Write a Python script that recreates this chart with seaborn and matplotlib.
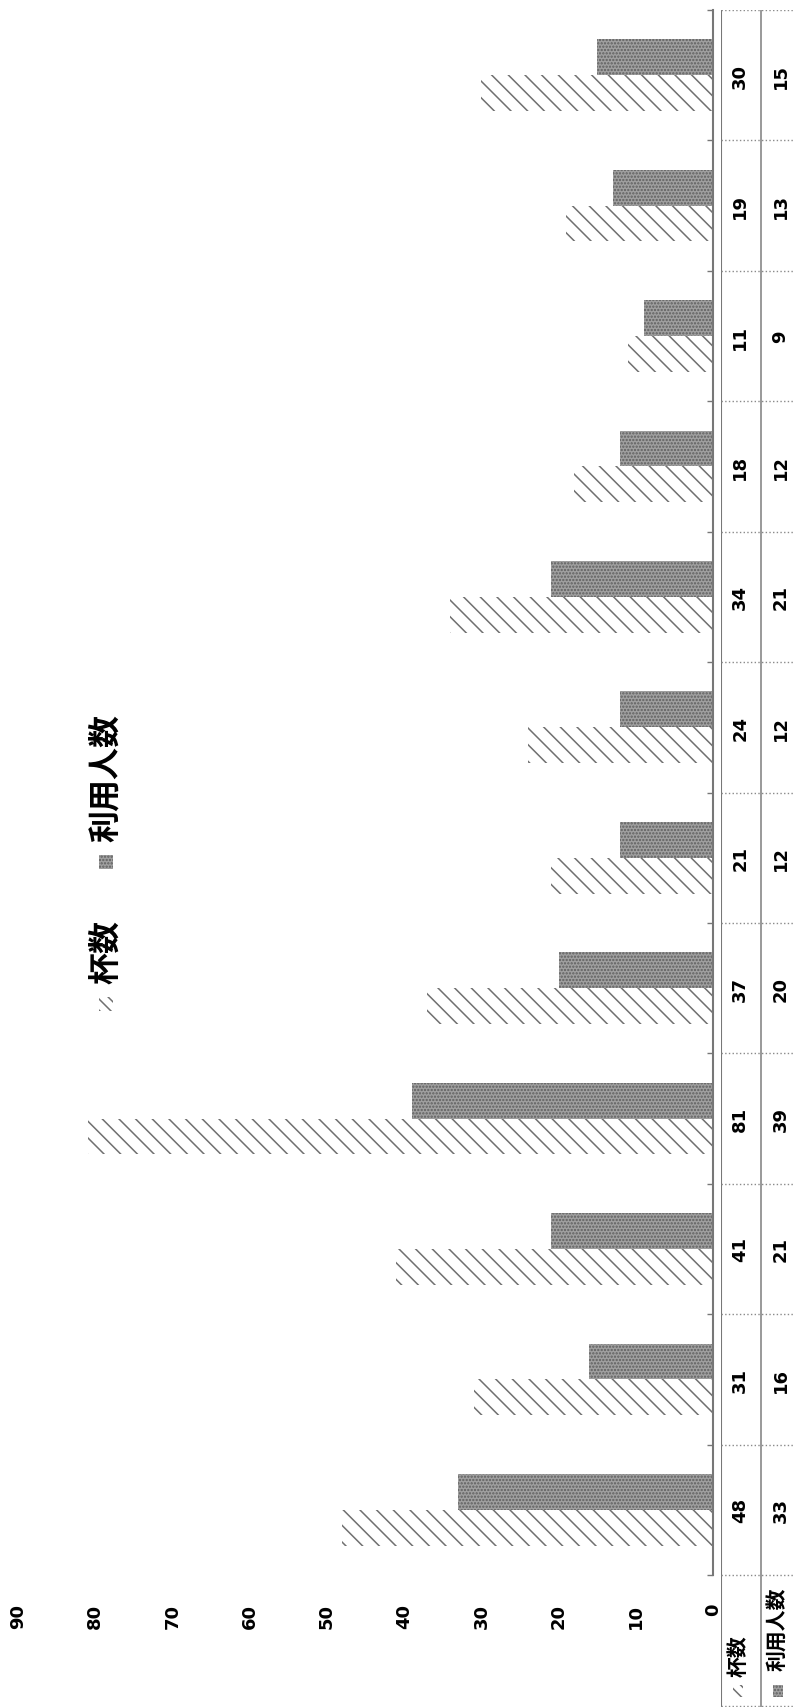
# 杯数 / 利用人数 bar chart with data table (page scanned rotated 90 deg)

import numpy as np
import pandas as pd
import seaborn as sns
import matplotlib.pyplot as plt
from matplotlib.patches import Rectangle

# ---- data (first category at the bottom of the page) ----
cats = [str(i) for i in range(1, 13)]
cups = [48, 31, 41, 81, 37, 21, 24, 34, 18, 11, 19, 30]      # 杯数
users = [33, 16, 21, 39, 20, 12, 12, 21, 12, 9, 13, 15]      # 利用人数
series = ['杯数', '利用人数']
value_ticks = list(range(0, 100, 10))

df = pd.DataFrame({
    'cat': cats * 2,
    'value': cups + users,
    'series': [series[0]] * len(cats) + [series[1]] * len(cats),
})

sns.set_theme(style='white')
plt.rcParams['font.family'] = ['Noto Sans CJK JP', 'DejaVu Sans']
plt.rcParams['hatch.linewidth'] = 1.1
plt.rcParams['text.color'] = 'black'

W, H = 795, 1708
fig = plt.figure(figsize=(W / 100, H / 100), dpi=100)

HATCH_C = '#707070'
SOLID_FC, SOLID_DOT = '#a0a0a0', '#5e5e5e'


def px_box(x0, y0, x1, y1):
    # pixel box (top-left origin) -> figure rect
    return [x0 / W, 1 - y1 / H, (x1 - x0) / W, (y1 - y0) / H]


def px_rect(x, y, w, h, **kw):
    fig.patches.append(Rectangle((x / W, 1 - (y + h) / H), w / W, h / H,
                                 transform=fig.transFigure, figure=fig, **kw))


# ---- main bars ----
ax = fig.add_axes(px_box(18, 11, 713, 1576))
sns.barplot(data=df, y='cat', x='value', hue='series', order=cats,
            hue_order=series, orient='h', width=0.55, errorbar=None,
            saturation=1, legend=False, ax=ax)
ax.set_xlim(90, 0)
ax.set_ylim(-0.5, len(cats) - 0.5)

for p in ax.containers[0]:
    p.set_facecolor('white')
    p.set_edgecolor(HATCH_C)
    p.set_hatch('\\\\')
    p.set_linewidth(0)
for p in ax.containers[1]:
    p.set_facecolor(SOLID_FC)
    p.set_edgecolor(SOLID_DOT)
    p.set_hatch('.....')
    p.set_linewidth(0)

for side in ['left', 'top', 'bottom']:
    ax.spines[side].set_visible(False)
ax.spines['right'].set_color('#777777')
ax.spines['right'].set_linewidth(1.5)

ax.set_xticks(value_ticks)
ax.set_xticklabels([str(v) for v in value_ticks], rotation=90, color='black',
                   fontsize=13, fontweight='bold', family='DejaVu Sans')
ax.tick_params(axis='x', length=0, pad=20)
ax.set_yticks([])
ax.set_yticks(np.arange(-0.5, len(cats), 1), minor=True)
ax.yaxis.set_ticks_position('right')
ax.tick_params(axis='y', which='minor', direction='in', length=4,
               color='#777777', right=True, left=False)
ax.set_xlabel('')
ax.set_ylabel('')

# ---- data table to the right of the axis ----
hdr = (1708 - 1576) / ((1576 - 11) / len(cats))
tab = fig.add_axes(px_box(721, 11, 801, 1708))
tab.set_xlim(0, 2)
tab.set_ylim(-0.5 - hdr, len(cats) - 0.5)
tab.axis('off')
tab.axvline(0, color='#777777', lw=1.5)
tab.axvline(1, color='#888888', lw=1.2)
tab.hlines(np.arange(-0.5, len(cats), 1), 0, 2, color='#8a8a8a',
           lw=1, linestyles=':')
tab.hlines([-0.5 - hdr + 0.01], 0, 2, color='#8a8a8a', lw=1, linestyles=':')

for i, (c, u) in enumerate(zip(cups, users)):
    tab.text(0.48, i, str(c), rotation=90, ha='center', va='center',
             fontsize=13, fontweight='bold', family='DejaVu Sans')
    tab.text(1.49, i, str(u), rotation=90, ha='center', va='center',
             fontsize=13, fontweight='bold', family='DejaVu Sans')

# row headers with keys
fig.text(738 / W, 1 - 1677 / H, series[0], rotation=90, ha='center',
         va='bottom', fontsize=15, fontweight='bold')
fig.text(778 / W, 1 - 1671 / H, series[1], rotation=90, ha='center',
         va='bottom', fontsize=15, fontweight='bold')
px_rect(733, 1686, 10, 12, facecolor='white', edgecolor=HATCH_C,
        hatch='\\\\\\', lw=0)
px_rect(773, 1686, 10, 12, facecolor=SOLID_FC, edgecolor=SOLID_DOT,
        hatch='.....', lw=0)

# ---- legend ----
fig.text(106 / W, 1 - 952 / H, series[0], rotation=90, ha='center',
         va='center', fontsize=23, fontweight='bold')
fig.text(106 / W, 1 - 778 / H, series[1], rotation=90, ha='center',
         va='center', fontsize=23, fontweight='bold')
px_rect(99, 998, 14, 14, facecolor='white', edgecolor=HATCH_C,
        hatch='\\\\\\', lw=0)
px_rect(99, 856, 14, 14, facecolor=SOLID_FC, edgecolor=SOLID_DOT,
        hatch='.....', lw=0)

fig.savefig('out.png', dpi=100)
